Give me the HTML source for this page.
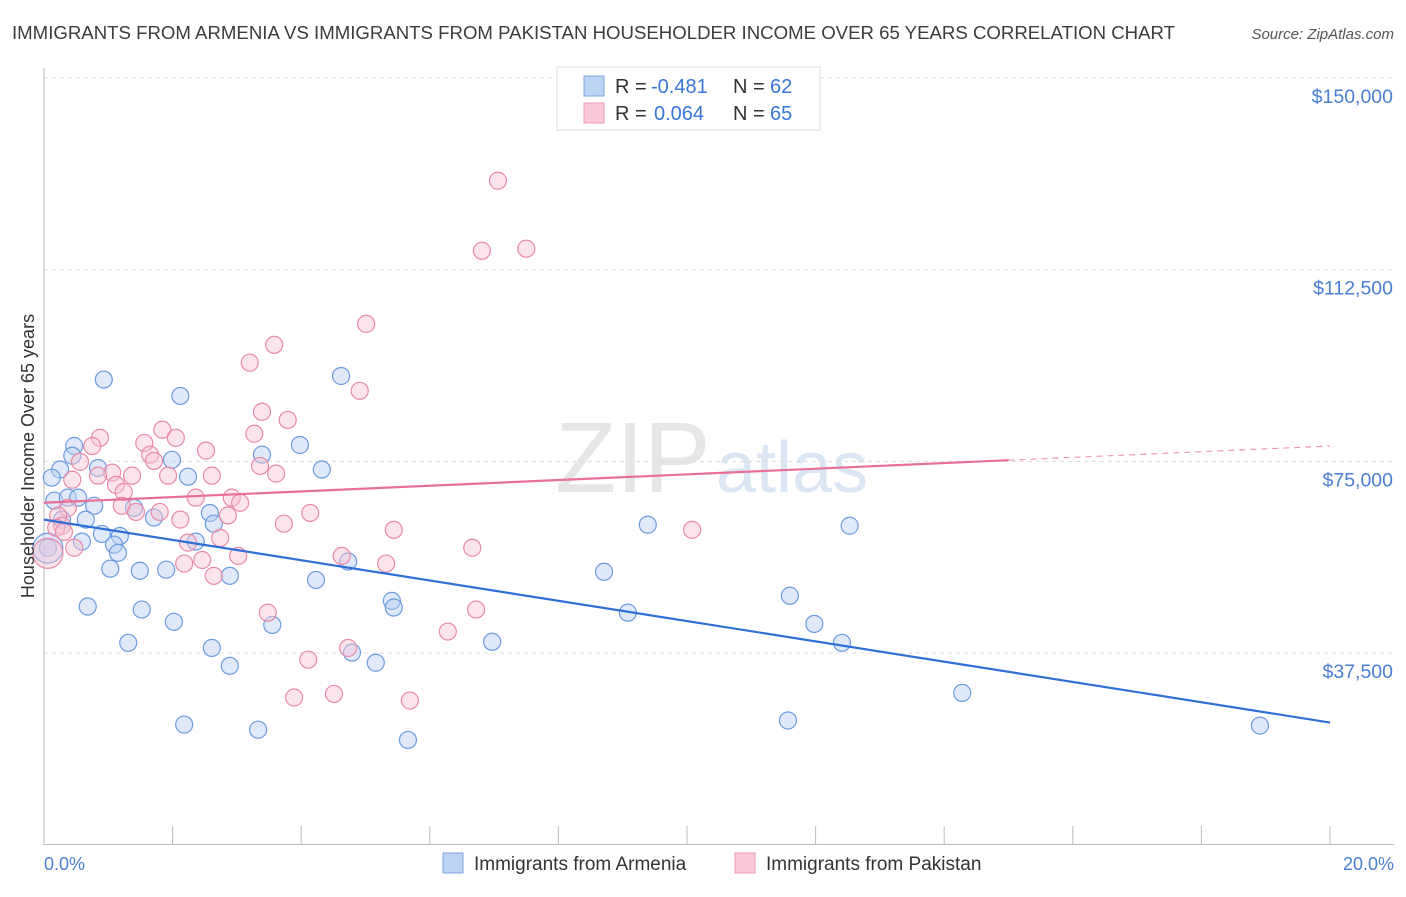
<!DOCTYPE html>
<html><head><meta charset="utf-8"><style>
body{margin:0;background:#fff;font-family:"Liberation Sans",sans-serif;}
svg text{font-family:"Liberation Sans",sans-serif;}
</style></head><body>
<svg id="chart" width="1406" height="892">
<text x="12" y="39" font-size="18" fill="#3c3c3c" textLength="1163" lengthAdjust="spacingAndGlyphs">IMMIGRANTS FROM ARMENIA VS IMMIGRANTS FROM PAKISTAN HOUSEHOLDER INCOME OVER 65 YEARS CORRELATION CHART</text>
<text x="1394" y="39" font-size="15" fill="#555" text-anchor="end" font-style="italic">Source: ZipAtlas.com</text>
<text x="555" y="492" font-size="100" fill="#e6e6e6" font-family="Liberation Serif">ZIP</text>
<text x="716" y="492" font-size="72" fill="#dbe6f4">atlas</text>
<g id="grid"></g><g id="axes"></g><g id="marks"></g>
<text transform="translate(34,456) rotate(-90)" font-size="18" fill="#333" text-anchor="middle">Householder Income Over 65 years</text>
<text x="44" y="870" font-size="18" fill="#4a7fd4">0.0%</text>
<text x="1394" y="870" font-size="18" fill="#4a7fd4" text-anchor="end">20.0%</text>
<g>
<rect x="557" y="67" width="263" height="63" fill="#fff" stroke="#ddd"/>
<rect x="584" y="76" width="20" height="20" fill="#bcd3f3" stroke="#7fa6e0"/>
<rect x="584" y="103" width="20" height="20" fill="#f9c9d8" stroke="#ec9ab4"/>
<text x="615" y="93" font-size="20" fill="#333">R =</text>
<text x="651" y="93" font-size="20" fill="#3a76d6">-0.481</text>
<text x="733" y="93" font-size="20" fill="#333">N =</text>
<text x="770" y="93" font-size="20" fill="#3a76d6">62</text>
<text x="615" y="120" font-size="20" fill="#333">R =</text>
<text x="654" y="120" font-size="20" fill="#3a76d6">0.064</text>
<text x="733" y="120" font-size="20" fill="#333">N =</text>
<text x="770" y="120" font-size="20" fill="#3a76d6">65</text>
</g>
<g>
<rect x="443" y="853" width="20" height="20" fill="#bcd3f3" stroke="#7fa6e0"/>
<text x="474" y="870" font-size="19" fill="#333">Immigrants from Armenia</text>
<rect x="735" y="853" width="20" height="20" fill="#f9c9d8" stroke="#ec9ab4"/>
<text x="766" y="870" font-size="19" fill="#333">Immigrants from Pakistan</text>
</g>
</svg>
<script>
const yTicks=[37500,75000,112500,150000];
const yTickLabels=["$37,500","$75,000","$112,500","$150,000"];
const xTicks=[0,2,4,6,8,10,12,14,16,18,20];
const armeniaX=[0.93,2.12,4.62,0.47,0.25,0.44,0.84,1.99,2.24,3.39,3.98,4.32,0.12,0.16,0.37,0.53,0.78,1.40,0.28,0.65,1.71,2.58,2.64,0.90,0.59,1.18,1.09,1.15,2.36,0.06,1.03,1.49,1.90,2.89,4.23,4.73,0.68,1.52,2.02,3.55,5.41,5.44,1.31,2.61,2.89,4.79,5.16,2.18,3.33,5.66,6.97,8.71,9.08,9.39,11.60,11.98,12.41,12.53,14.28,11.57,18.91,0.06];
const armeniaY=[91.0,87.8,91.7,78.0,73.4,76.1,73.7,75.3,72.0,76.3,78.2,73.4,71.8,67.3,67.9,67.9,66.3,65.9,63.6,63.6,64.0,64.9,62.8,60.8,59.3,60.4,58.7,57.1,59.3,58.1,54.0,53.6,53.8,52.6,51.8,55.4,46.6,46.0,43.6,43.0,47.7,46.4,39.5,38.5,35.0,37.6,35.6,23.5,22.5,20.5,39.7,53.4,45.4,62.6,48.7,43.2,39.5,62.4,29.7,24.3,23.3,58.0];
const pakistanX=[7.06,6.81,7.50,5.01,3.58,3.20,4.91,3.39,3.79,1.84,2.05,0.87,0.75,3.27,2.52,1.56,1.65,1.71,0.56,1.06,1.37,1.93,2.61,3.61,3.36,0.44,0.84,1.12,1.24,2.36,2.92,3.05,0.37,1.21,1.43,1.80,2.86,4.14,0.22,0.28,2.12,3.73,5.44,10.08,0.19,2.24,2.74,0.47,3.02,2.46,2.18,2.64,4.63,5.32,6.66,3.48,6.72,6.28,4.73,4.11,3.89,4.51,5.69,0.31,0.06];
const pakistanY=[129.9,116.2,116.6,101.9,97.8,94.3,88.8,84.7,83.1,81.2,79.6,79.6,78.0,80.4,77.1,78.6,76.3,75.1,74.9,72.8,72.2,72.2,72.2,72.6,74.1,71.4,72.2,70.4,69.0,67.9,67.9,66.9,65.9,66.3,65.1,65.1,64.4,64.9,64.4,62.4,63.6,62.8,61.6,61.6,62.0,59.1,60.0,58.1,56.5,55.7,55.0,52.6,56.5,55.0,58.1,45.4,46.0,41.7,38.5,36.2,28.8,29.5,28.2,61.2,57.0];
const armeniaTrend=[63.6,23.9];
const pakistanTrend=[66.9,78.0];
const pakistanSolidEnd=15.0;
const NS="http://www.w3.org/2000/svg";
const X=v=>44+(v/20)*1286;
const Y=v=>844.7-(v/150)*766.7;
function mk(tag,attrs,parent){const e=document.createElementNS(NS,tag);for(const k in attrs)e.setAttribute(k,attrs[k]);parent.appendChild(e);return e;}
const grid=document.getElementById('grid'),axes=document.getElementById('axes'),marks=document.getElementById('marks');
yTicks.forEach((t,i)=>{const y=Y(t/1000);
const l=mk('line',{x1:44,x2:1394,y1:y,y2:y,stroke:'#dcdcdc','stroke-dasharray':'4,4'},grid);


const tx=mk('text',{x:1393,y:y+25,'font-size':19.5,fill:'#4a7fd4','text-anchor':'end'},grid);tx.textContent=yTickLabels[i];

});
mk('line',{x1:44,x2:44,y1:68,y2:845,stroke:'#bbb'},axes);
mk('line',{x1:44,x2:1394,y1:844.5,y2:844.5,stroke:'#bbb'},axes);
xTicks.forEach(t=>{const x=X(t);const l=mk('line',{x1:x,x2:x,y1:826,y2:845,stroke:'#bbb'},axes);

});
function pts(xs,ys,fill,stroke,name,bigLast){xs.forEach((v,i)=>{const big=bigLast&&i===xs.length-1;
const c=mk('circle',{cx:X(v),cy:Y(ys[i]),r:big?15:8.5,fill:fill,'fill-opacity':0.45,stroke:stroke,'stroke-width':1.2},marks);

});}
pts(armeniaX,armeniaY,'#b7cff2','#6c9be0','armenia-point',true);
pts(pakistanX,pakistanY,'#f8c3d5','#e98aa9','pakistan-point',true);
const bl=mk('line',{x1:X(0),y1:Y(armeniaTrend[0]),x2:X(20),y2:Y(armeniaTrend[1]),stroke:'#2f6fd6','stroke-width':2.2},marks);


const pe=pakistanTrend[0]+(pakistanTrend[1]-pakistanTrend[0])*pakistanSolidEnd/20;
const pl=mk('line',{x1:X(0),y1:Y(pakistanTrend[0]),x2:X(pakistanSolidEnd),y2:Y(pe),stroke:'#e86f98','stroke-width':2.2},marks);


const pd=mk('line',{x1:X(pakistanSolidEnd),y1:Y(pe),x2:X(20),y2:Y(pakistanTrend[1]),stroke:'#e86f98','stroke-width':1.2,'stroke-dasharray':'6,5','stroke-opacity':0.7},marks);


</script>
</body></html>
